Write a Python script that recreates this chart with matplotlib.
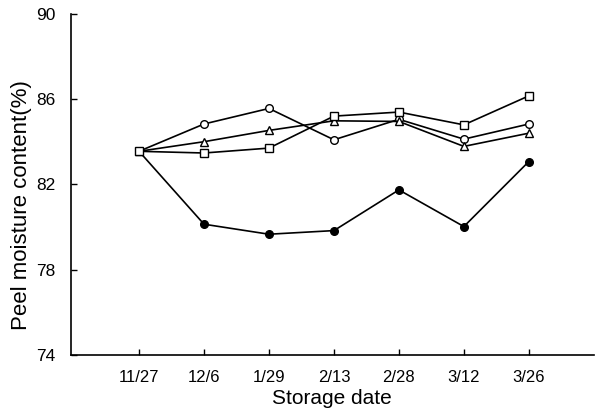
import matplotlib
matplotlib.use('Agg')
import matplotlib.pyplot as plt

plt.rcParams['font.family'] = ['Liberation Sans', 'DejaVu Sans']

dates = ['11/27', '12/6', '1/29', '2/13', '2/28', '3/12', '3/26']
open_circle = [83.55, 84.83, 85.56, 84.09, 85.05, 84.12, 84.83]
triangle = [83.55, 84.00, 84.53, 84.98, 84.95, 83.78, 84.40]
square = [83.55, 83.47, 83.70, 85.20, 85.39, 84.79, 86.15]
filled_circle = [83.55, 80.13, 79.66, 79.83, 81.74, 80.02, 83.07]

fig = plt.figure(figsize=(5.95, 4.18), dpi=100)
ax = fig.add_axes([0.119, 0.151, 0.879, 0.816])

x = list(range(len(dates)))
ax.plot(x, filled_circle, color='black', lw=1.2, marker='o', ms=5.5,
        mfc='black', mec='black', zorder=3)
ax.plot(x, open_circle, color='black', lw=1.2, marker='o', ms=5.5,
        mfc='white', mec='black', zorder=4)
ax.plot(x, triangle, color='black', lw=1.2, marker='^', ms=5.5,
        mfc='white', mec='black', zorder=4)
ax.plot(x, square, color='black', lw=1.2, marker='s', ms=6,
        mfc='white', mec='black', zorder=5)

ax.set_xlim(-1.05, 7)
ax.set_ylim(74, 90)
ax.set_xticks(x)
ax.set_xticklabels(dates)
ax.set_yticks([74, 78, 82, 86, 90])

for side in ['top', 'right']:
    ax.spines[side].set_visible(False)
for side in ['left', 'bottom']:
    ax.spines[side].set_linewidth(1.2)

ax.tick_params(axis='x', direction='in', length=4, width=1, pad=11, labelsize=12)
ax.tick_params(axis='y', direction='in', length=4, width=1, pad=11, labelsize=12.5)

ax.set_xlabel('Storage date', fontsize=15, labelpad=3)
ax.set_ylabel('Peel moisture content(%)', fontsize=16)
ax.yaxis.set_label_coords(-0.074, 0.44)

fig.savefig('out.png', dpi=100)
